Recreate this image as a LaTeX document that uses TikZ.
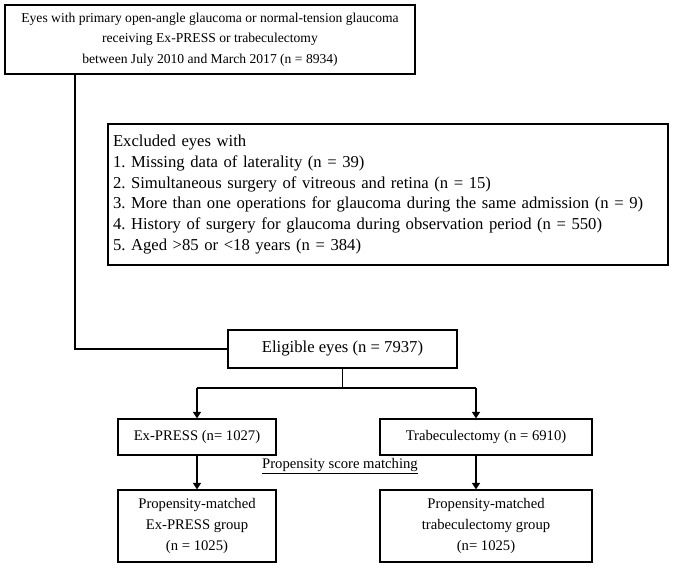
\documentclass[tikz,border=0pt]{standalone}
\usepackage{fontspec}
\setmainfont{Liberation Serif}
\frenchspacing
\usetikzlibrary{positioning,arrows.meta}
\tikzset{
  box/.style={draw, line width=0.8pt, inner sep=2pt, align=center, font=\fontsize{11}{15.5}\selectfont},
  link/.style={line width=0.8pt},
  arr/.style={line width=1.6pt, -{Triangle[length=5pt,width=6pt]}}
}
\begin{document}
\begin{tikzpicture}[x=0.75pt, y=-0.75pt]
    \useasboundingbox (0,0) rectangle (685,568);
    % boxes
    \node[box, font=\fontsize{10.2}{15.5}\selectfont, minimum width=410*0.75pt, minimum height=69*0.75pt] (top) at (210,39.5)
      {Eyes with primary open-angle glaucoma or normal-tension glaucoma\\
       receiving Ex-PRESS or trabeculectomy\\
       between July 2010 and March 2017 (n = 8934)};
    \node[box, font=\fontsize{12.5}{15.5}\selectfont, align=left, minimum width=560*0.75pt, minimum height=141*0.75pt, text width=550*0.75pt] (excl) at (388,194.5)
      {Excluded eyes with\\
       1. Missing data of laterality (n = 39)\\
       2. Simultaneous surgery of vitreous and retina (n = 15)\\
       3. More than one operations for glaucoma during the same admission (n = 9)\\
       4. History of surgery for glaucoma during observation period (n = 550)\\
       5. Aged >85 or <18 years (n = 384)};
    \node[box, font=\fontsize{12.5}{15.5}\selectfont, minimum width=229*0.75pt, minimum height=38*0.75pt] (elig) at (342.5,349) {Eligible eyes (n = 7937)};
    \node[box, minimum width=158*0.75pt, minimum height=36*0.75pt] (expr) at (197,437) {Ex-PRESS (n= 1027)};
    \node[box, minimum width=212*0.75pt, minimum height=36*0.75pt] (trab) at (486,437) {Trabeculectomy (n = 6910)};
    \node[box, minimum width=158*0.75pt, minimum height=72*0.75pt] (pmex) at (197,526)
      {Propensity-matched\\Ex-PRESS group\\(n = 1025)};
    \node[box, minimum width=212*0.75pt, minimum height=72*0.75pt] (pmtr) at (486,526)
      {Propensity-matched\\trabeculectomy group\\(n= 1025)};
    \node[font=\fontsize{11}{12}\selectfont] (psm) at (340,466) {\underline{Propensity score matching}};
    % connectors
    \coordinate (c0) at (75,74);
    \draw[link] (c0) |- (elig.west);
    \coordinate (sp) at (342.5,388);
    \coordinate (sl) at (197,388);
    \coordinate (sr) at (476,388);
    \draw[link] (elig.south) -- (sp);
    \draw[link] (sl) -- (sr);
    \draw[arr] (sl) -- (expr.north);
    \draw[arr] (sr) -- (sr |- trab.north);
    \draw[arr] (expr.south) -- (pmex.north);
    \draw[arr] (sr |- trab.south) -- (sr |- pmtr.north);
\end{tikzpicture}
\end{document}
